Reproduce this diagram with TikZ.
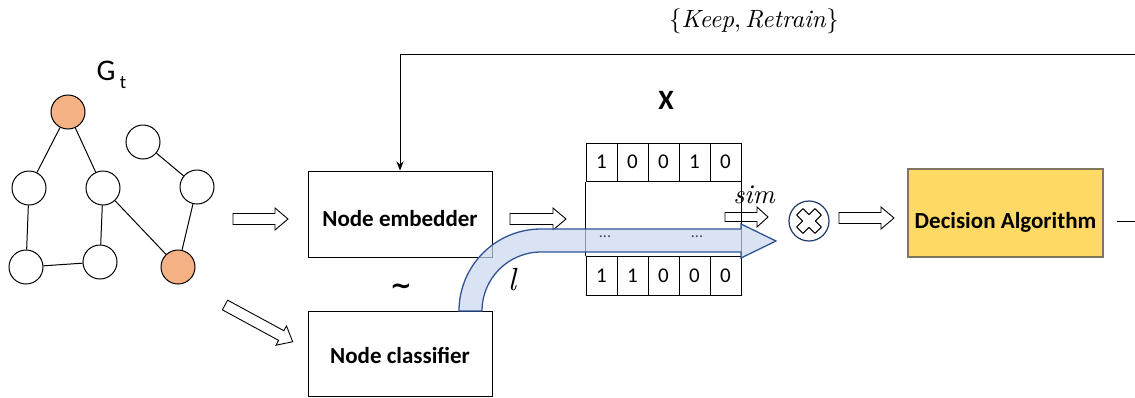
\documentclass[tikz,border=0pt]{standalone}
\usepackage{fontspec}
\setmainfont{Carlito}
\newfontfamily\lmrm{lmroman10}[Extension=.otf, UprightFont=*-regular, ItalicFont=*-italic]
\newfontfamily\djv{DejaVu Sans}
\usetikzlibrary{arrows.meta,calc}
\definecolor{peach}{RGB}{244,177,131}
\definecolor{bandfill}{RGB}{202,215,238}
\definecolor{bandline}{RGB}{47,85,151}
\definecolor{navy}{RGB}{31,56,100}
\definecolor{gold}{RGB}{255,217,102}
\definecolor{goldline}{RGB}{128,118,92}
\definecolor{dotgray}{RGB}{70,72,80}
\tikzset{
  gnode/.style={circle, draw, line width=1pt, fill=white, minimum size=34pt, inner sep=0pt},
  onode/.style={gnode, fill=peach},
  gedge/.style={line width=1pt},
  box/.style={draw, line width=1pt, rectangle, inner sep=0pt},
  boxtext/.style={inner sep=0pt, anchor=base, font=\fontsize{23}{26}\selectfont\bfseries},
  cell/.style={draw, line width=1pt, minimum width=31pt, inner sep=0pt, font=\fontsize{21}{24}\selectfont},
  mathlbl/.style={inner sep=0pt},
  % hollow block arrow of a given length, pointing along its local x axis
  pics/harrow/.style={code={
    \draw[line width=0.9pt, fill=white]
      (0,-5.5) -- (#1-13,-5.5) -- (#1-13,-11) -- (#1,0) -- (#1-13,11) -- (#1-13,5.5) -- (0,5.5) -- cycle;}},
  pics/sarrow/.style={code={
    \draw[line width=0.9pt, fill=white]
      (0,-4.5) -- (#1-11,-4.5) -- (#1-11,-10) -- (#1,0) -- (#1-11,10) -- (#1-11,4.5) -- (0,4.5) -- cycle;}}
}
\begin{document}
\begin{tikzpicture}[x=1pt,y=-1pt]
\useasboundingbox (0,0) rectangle (1135,397);

% graph G_t
\node[inner sep=0pt, font=\fontsize{30}{32}\selectfont] (glab) at (106,71) {G};
\node[inner sep=0pt, font=\fontsize{19}{20}\selectfont] (gsub) at (123,83) {t};
\node[onode] (v1) at (68,112) {};
\node[gnode] (v2) at (143,142) {};
\node[gnode] (v3) at (29,188) {};
\node[gnode] (v4) at (103,188) {};
\node[gnode] (v5) at (197,187) {};
\node[gnode] (v6) at (26,267) {};
\node[gnode] (v7) at (100,262) {};
\node[onode] (v8) at (178,267) {};
\draw[gedge] (v1) -- (v3);
\draw[gedge] (v1) -- (v4);
\draw[gedge] (v3) -- (v6);
\draw[gedge] (v6) -- (v7);
\draw[gedge] (v4) -- (v7);
\draw[gedge] (v4) -- (v8);
\draw[gedge] (v2) -- (v5);
\draw[gedge] (v5) -- (v8);

% models
\node[box, minimum width=184pt, minimum height=86pt] (emb) at (400,214) {};
\node[boxtext] (embtxt) at (400,226) {Node embedder};
\node[box, minimum width=184pt, minimum height=85pt] (cls) at (400,353.5) {};
\node[boxtext] (clstxt) at (400,363) {Node classifier};
\node[inner sep=0pt, font=\djv\bfseries\fontsize{26}{28}\selectfont] (tld) at (401,289) {\textasciitilde};

% hollow arrows
\coordinate (s1) at (233,219);
\coordinate (s2) at (225,305);
\coordinate (s3) at (510,219);
\coordinate (s4) at (839,218);
\coordinate (s5) at (725,217);
\pic at (s1) {harrow=55};
\pic[rotate=-28.5] at (s2) {harrow=77};
\pic at (s3) {harrow=56};
\pic at (s4) {harrow=55};
\pic at (s5) {sarrow=43};

% embedding matrix X
\node[inner sep=0pt, font=\fontsize{28}{30}\selectfont\bfseries] (xlab) at (666,100) {X};
\foreach \v [count=\i] in {1,0,0,1,0}
  \node[cell, minimum height=38pt] (t\i) at (570.5+31*\i,162) {\v};
\foreach \v [count=\i] in {1,1,0,0,0}
  \node[cell, minimum height=39pt] (b\i) at (570.5+31*\i,275.5) {\v};
\draw[line width=1pt] (t1.south west) -- (b1.north west);
\draw[line width=1pt] (t5.south east) -- (b5.north east);

% label stream
\path[fill=bandfill, fill opacity=0.7, draw=bandline, line width=1.3pt]
  (459,311) .. controls (459,265.7) and (495.7,229) .. (541,229) -- (741,229)
  -- (741,224) -- (776,241) -- (741,258) -- (741,252) -- (541,252)
  .. controls (508.4,252) and (482,278.4) .. (482,311) -- cycle;
\node[inner sep=0pt, anchor=base, text=dotgray, font=\fontsize{16}{18}\selectfont] (d1) at (605,237) {...};
\node[inner sep=0pt, anchor=base, text=dotgray, font=\fontsize{16}{18}\selectfont] (d2) at (697,237) {...};
\node[mathlbl, font=\lmrm\itshape\fontsize{32}{34}\selectfont] (llab) at (512,280) {l};
\node[mathlbl, font=\lmrm\itshape\fontsize{27}{30}\selectfont] (simlab) at (754,195) {sim};

% comparison
\node[circle, draw=navy, line width=1.2pt, minimum size=40pt, inner sep=0pt] (mul) at (809,221) {};
\draw[line width=1pt, line join=round, rotate around={45:(mul.center)}]
  ($(mul.center)+(4.5,4.5)$) -- ++(0,8.5) -- ++(-9,0) -- ++(0,-8.5) -- ++(-8.5,0) -- ++(0,-9)
  -- ++(8.5,0) -- ++(0,-8.5) -- ++(9,0) -- ++(0,8.5) -- ++(8.5,0) -- ++(0,9) -- cycle;

% decision
\node[draw=goldline, fill=gold, line width=1.2pt, minimum width=195pt, minimum height=88pt,
  inner sep=0pt] (dec) at (1005.5,213) {};
\node[boxtext] (dectxt) at (1005.5,228) {Decision Algorithm};
\coordinate (outR) at (1135,221);
\draw[line width=1pt] ($(dec.east)+(13,8)$) -- (outR);

% feedback
\coordinate (fbR) at (1135,54);
\coordinate (fbL) at (400,54);
\draw[line width=1pt, -{Stealth[length=9pt,width=7pt]}] (fbR) -- (fbL) -- (emb.north);
\node[mathlbl, font=\lmrm\fontsize{25}{28}\selectfont] (klab) at (754,21) {\{\textit{Keep},\,\textit{Retrain}\}};
\end{tikzpicture}
\end{document}
